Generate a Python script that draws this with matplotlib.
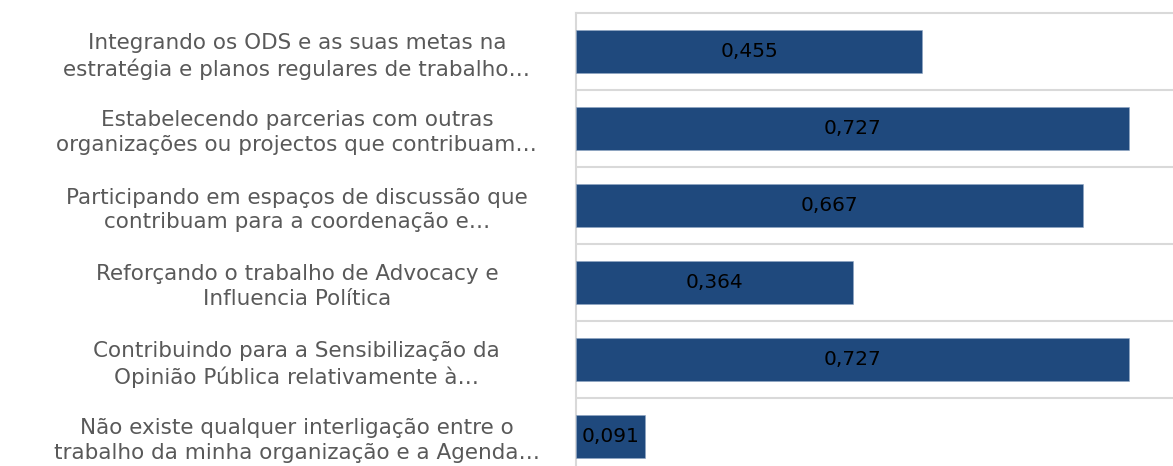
import numpy as np
import matplotlib.pyplot as plt

# categories (top to bottom) and values
labels = [
    "Integrando os ODS e as suas metas na\nestratégia e planos regulares de trabalho…",
    "Estabelecendo parcerias com outras\norganizações ou projectos que contribuam…",
    "Participando em espaços de discussão que\ncontribuam para a coordenação e…",
    "Reforçando o trabalho de Advocacy e\nInfluencia Política",
    "Contribuindo para a Sensibilização da\nOpinião Pública relativamente à…",
    "Não existe qualquer interligação entre o\ntrabalho da minha organização e a Agenda…",
]
values = [0.455, 0.727, 0.667, 0.364, 0.727, 0.091]

bar_color = '#1F497D'
grid_color = '#D9D9D9'

fig = plt.figure(figsize=(11.73, 4.66), dpi=100)
# axes runs past the bottom edge of the picture, as in the reference
ax = fig.add_axes([576/1173, -9/466, 597/1173, 462/466])

y = np.arange(len(values))
ax.barh(y, values, height=0.56, color=bar_color, edgecolor='#8FA6C4', linewidth=0.4, zorder=3)

for yi, v in zip(y, values):
    ax.text(v/2, yi, f"{v:.3f}".replace('.', ','), ha='center', va='center',
            fontsize=14.5, color='black', zorder=4)

ax.set_xlim(0, 0.785)
ax.set_ylim(len(values) - 0.5, -0.5)

ax.set_xticks([])
ax.set_yticks(y)
ax.set_yticklabels(labels, ha='center', multialignment='center', fontsize=15.5,
                   color='#595959', linespacing=1.3)
ax.tick_params(axis='y', which='major', length=0, pad=201)

ax.set_yticks(y[:-1] + 0.5, minor=True)
ax.tick_params(axis='y', which='minor', length=0)
ax.grid(axis='y', which='minor', color=grid_color, linewidth=1.5, zorder=0)

for side in ['right', 'bottom']:
    ax.spines[side].set_visible(False)
ax.spines['top'].set_color(grid_color)
ax.spines['top'].set_linewidth(1.5)
ax.spines['left'].set_color(grid_color)
ax.spines['left'].set_linewidth(1.5)

fig.savefig('out.png', dpi=100)
